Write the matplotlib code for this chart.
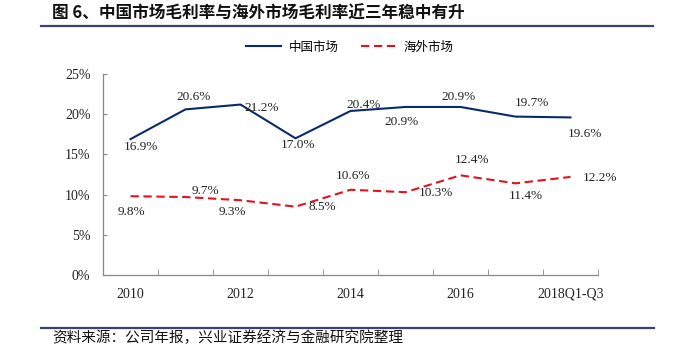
import matplotlib
matplotlib.use("Agg")
import matplotlib.pyplot as plt
from matplotlib.lines import Line2D
import numpy as np

plt.rcParams['font.family'] = ['Liberation Serif', 'Noto Sans CJK SC', 'DejaVu Sans']

# data
periods = ['2010', '2011', '2012', '2013', '2014', '2015', '2016', '2017', '2018Q1-Q3']
china = [16.9, 20.6, 21.2, 17.0, 20.4, 20.9, 20.9, 19.7, 19.6]
overseas = [9.8, 9.7, 9.3, 8.5, 10.6, 10.3, 12.4, 11.4, 12.2]
tick_labels = ['2010', '', '2012', '', '2014', '', '2016', '', '2018Q1-Q3']

# label offsets (pixels, x right / y up)
china_off = [(10, -8), (8, 12), (21, -3), (3, -7), (13, 6), (-4, -15), (-2, 10), (16, 14), (14, -17)]
over_off = [(1, -16), (20, 6), (-8, -12), (27, 0), (3, 14), (30, -1), (12, 15), (10, -13), (30, -1)]

navy = '#0b2a6b'
red = '#e0141e'
rule = '#3c4078'

fig = plt.figure(figsize=(6.78, 3.6), dpi=100)
ax = fig.add_axes([103 / 678, 1 - 275 / 360, 495 / 678, 201 / 360])

x = np.arange(len(periods))
ax.plot(x, china, color=navy, lw=1.5, label='中国市场')
ax.plot(x, overseas, color=red, lw=1.5, dashes=(4, 2.2), label='海外市场')

for xi, v, (dx, dy) in zip(x, china, china_off):
    ax.annotate(f'{v:.1f}%', (xi, v), xytext=(dx * 0.72, dy * 0.72),
                textcoords='offset points', ha='center', va='center',
                fontsize=9.5, color='#222222')
for xi, v, (dx, dy) in zip(x, overseas, over_off):
    ax.annotate(f'{v:.1f}%', (xi, v), xytext=(dx * 0.72, dy * 0.72),
                textcoords='offset points', ha='center', va='center',
                fontsize=9.5, color='#222222')

ax.set_xlim(-0.5, len(periods) - 0.5)
ax.set_ylim(0, 25)
ax.set_yticks(np.arange(0, 26, 5))
ax.set_yticklabels([f'{t}%' for t in range(0, 26, 5)])
ax.set_xticks(x)
ax.set_xticklabels(tick_labels)
ax.set_xticks(np.arange(-0.5, len(periods)), minor=True)
ax.tick_params(axis='x', which='major', length=0, pad=9, labelsize=10, colors='#222222')
ax.tick_params(axis='x', which='minor', direction='in', length=4, color='#888888')
ax.tick_params(axis='y', direction='in', length=3, color='#888888', pad=9,
               labelsize=10, labelcolor='#222222')
for s in ['top', 'right']:
    ax.spines[s].set_visible(False)
for s in ['left', 'bottom']:
    ax.spines[s].set_color('#888888')
    ax.spines[s].set_linewidth(0.9)

fig.legend(loc='center', bbox_to_anchor=(350 / 678, 1 - 47 / 360), ncol=2, frameon=False,
           prop={'family': 'Noto Sans CJK SC', 'size': 9}, handlelength=2.8,
           handletextpad=0.6, columnspacing=1.8)

fig.text(52 / 678, 1 - 14 / 360, '图 6、中国市场毛利率与海外市场毛利率近三年稳中有升',
         fontsize=12, fontweight='bold', family=['Noto Sans CJK SC', 'DejaVu Sans'],
         va='center', ha='left', color='#111111')
fig.add_artist(Line2D([41 / 678, 653 / 678], [1 - 25.5 / 360] * 2, color=rule, lw=1.6))
fig.add_artist(Line2D([41 / 678, 654 / 678], [1 - 327.5 / 360] * 2, color=rule, lw=1.6))
fig.text(52 / 678, 1 - 338 / 360, '资料来源：公司年报，兴业证券经济与金融研究院整理',
         fontsize=10.5, family=['Noto Sans CJK SC', 'DejaVu Sans'],
         va='center', ha='left', color='#111111')

fig.savefig('out.png', dpi=100, facecolor='white')
